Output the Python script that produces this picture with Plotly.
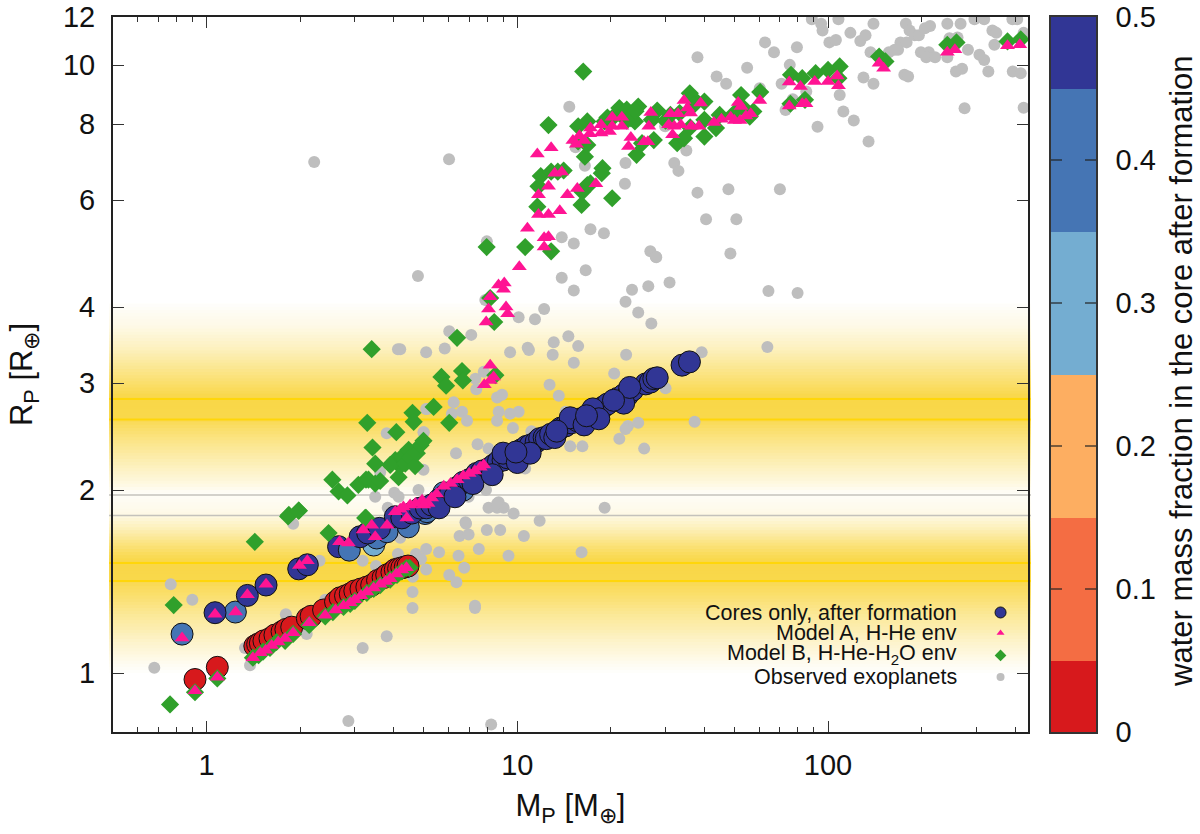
import numpy as np
import plotly.graph_objects as go

# ---------- data ----------
core_mass = [0.918,1.083,1.43,1.46,1.49,1.53,1.6,1.66,1.75,1.8,1.88,2.11,2.17,2.38,2.6,2.69,2.8,2.9,3.0,3.14,3.28,3.4,3.55,3.7,3.8,3.95,4.05,4.15,4.25,4.36,4.45,
             3.45,
             0.834,1.238,3.53,3.81,4.46,5.05,5.12,5.8,6.7,
             1.065,1.353,1.554,1.98,2.11,2.66,2.88,3.12,3.3,3.6,4.05,4.25,4.58,4.87,5.1,5.3,5.6,5.86,6.1,6.4,6.7,7.0,7.4,7.7,8.1,8.4,8.7,9.0,9.3,9.6,10.3,10.7,11,11.5,11.8,12.2,12.4,12.8,13.8,14.3,14.9,15.6,16,17.3,18,18.9,19.5,21,22,22.6,23.5,25.9,26.8,27.5,
             5.6,6.3,7.2,8.3,9,10,11,13.2,14.8,16.4,17.5,18.3,22,23,9.9,13.4,16.7,20.4,28.2,33.9,35.8]
core_radius = [0.976,1.022,1.108,1.115,1.12,1.13,1.14,1.155,1.17,1.18,1.19,1.23,1.24,1.27,1.31,1.33,1.34,1.35,1.365,1.375,1.385,1.395,1.42,1.435,1.45,1.465,1.48,1.485,1.49,1.495,1.5,
               1.624,
               1.159,1.26,1.668,1.708,1.74,1.83,1.843,1.98,2.0,
               1.257,1.342,1.396,1.484,1.507,1.614,1.593,1.676,1.70,1.73,1.808,1.80,1.833,1.868,1.87,1.89,1.93,1.963,1.98,2.02,2.06,2.08,2.13,2.15,2.17,2.2,2.23,2.24,2.26,2.29,2.33,2.36,2.37,2.4,2.43,2.44,2.43,2.47,2.53,2.55,2.58,2.6,2.62,2.68,2.71,2.74,2.77,2.83,2.87,2.86,2.92,2.99,3.01,3.05,
               1.87,1.95,2.05,2.12,2.3,2.22,2.3,2.44,2.63,2.56,2.72,2.62,2.78,2.95,2.31,2.5,2.65,2.81,3.06,3.21,3.25]
core_water = ([0.0]*31 + [0.3] + [0.4]*9 + [0.5]*6 + [0.4] + [0.5]*(len(core_mass)-48))

modelA_mass = [0.918,1.083,1.41,1.49,1.55,1.62,1.7,1.79,1.9,2.14,2.41,2.6,2.76,2.9,3.0,3.14,3.28,3.45,3.62,3.77,3.9,4.08,4.25,4.4,
               0.834,1.065,1.24,1.353,1.554,1.99,2.11,2.68,2.86,3.19,3.4,3.49,3.81,4.05,4.41,4.52,4.94,5.16,4.2,4.3,4.7,5.0,5.3,5.5,5.8,6.1,6.4,6.7,7,7.3,7.6,7.8,
               7.83,8.18,8.39,8.18,7.94,8.08,8.18,9.2,9.31,8.7,9.08,9.03,10.15,
               10.78,12.2,12.6,12.2,11.7,12.6,13.7,11.7,12.6,14.5,15.6,17.9,13.2,13.9,11.6,12.85,15.1,15.85,15.5,16.4,17.2,17.1,18.6,18.6,19.8,20.2,21.7,20.2,21.7,23.2,22.8,25.6,26.3,26.5,26.9,30.7,31.1,32.9,31.6,32,33.6,34.4,35.3,36.1,36.3,38.4,38.9,42.9,45.4,48.6,50,52.1,51.4,52.5,56.4,54.4,60.3,75,75,81.5,82.6,84.9,90.6,100,107,108,146,151,242,256,378,414]
modelA_radius = [0.935,0.984,1.06,1.08,1.09,1.11,1.125,1.14,1.165,1.21,1.245,1.27,1.29,1.305,1.32,1.34,1.36,1.38,1.40,1.415,1.43,1.455,1.477,1.49,
                 1.142,1.25,1.26,1.345,1.4,1.503,1.53,1.645,1.636,1.72,1.75,1.676,1.75,1.843,1.8,1.89,1.925,1.9,1.86,1.875,1.9,1.89,1.94,1.97,2.03,2.05,2.08,2.11,2.13,2.15,2.18,2.2,
                 2.98,3.21,3.07,3.03,3.78,3.97,4.16,4.0,3.9,4.35,4.38,4.28,4.66,
                 5.39,5.2,5.22,5.02,5.68,5.68,5.76,6.12,6.32,6.12,6.27,6.38,6.64,6.67,7.14,7.31,7.52,7.65,7.41,7.52,7.88,7.71,7.73,7.98,7.78,8.21,8.21,7.93,7.93,7.6,7.35,7.48,7.48,7.93,8.36,7.98,8.32,8.32,7.68,7.93,7.98,8.75,8.5,8.34,7.93,7.93,8.66,8.05,8.15,8.21,8.11,8.11,8.68,8.55,8.32,8.25,8.75,9.38,8.57,9.22,8.64,8.64,9.4,9.4,9.6,9.25,10.07,9.88,10.5,10.6,10.76,10.8]

modelB_mass = [0.763,0.784,0.918,1.083,1.41,1.47,1.52,1.6,1.68,1.79,1.9,2.14,2.41,2.55,2.76,2.9,3.0,3.28,3.45,3.62,3.9,4.1,4.25,4.4,4.5,
               1.43,1.83,1.98,2.47,3.24,1.84,1.98,2.54,2.66,2.84,3.08,3.26,3.32,3.49,3.62,3.26,4.05,4.2,4.15,3.9,4.26,4.36,4.47,4.52,4.69,4.75,4.88,4.99,3.42,3.49,4.08,3.29,6.04,4.6,4.64,5.38,5.7,5.9,6.64,6.68,3.4,6.4,8.18,8.43,8.5,
               7.97,10.6,12.85,11.6,16.1,20.2,11.7,11.9,12.85,13.5,14.1,16.2,16.8,17.2,18.8,18.7,16.5,16.8,15.7,12.6,16.3,15.7,16.8,19.1,20.2,21.3,22,23.2,24.5,23.9,28.2,27.1,24.2,27.5,25.2,32.7,34.4,35.9,36.8,40,31.1,33.3,40,40,43.6,44.8,50,52.5,52.9,57.5,56,60.5,76,82.6,91.2,100,109,108,75.7,84.3,146,153,242,259,378,417,19.5,22.5,24,22.5,30,36,37]
modelB_radius = [0.888,1.294,0.93,0.98,1.06,1.07,1.085,1.10,1.125,1.13,1.16,1.20,1.24,1.26,1.285,1.30,1.315,1.355,1.375,1.395,1.425,1.45,1.47,1.49,1.49,
                 1.644,1.81,1.85,1.70,1.80,1.82,1.85,2.08,1.99,1.96,2.04,2.08,2.08,2.05,2.07,1.8,2.24,2.19,2.1,2.2,2.27,2.21,2.33,2.26,2.19,2.3,2.37,2.41,2.35,2.21,2.49,2.58,2.58,2.68,2.59,2.74,3.07,2.97,3.14,3.03,3.41,3.56,4.14,3.78,3.09,
                 5.02,5.02,4.94,5.85,5.89,6.04,6.32,6.57,6.68,6.68,6.71,6.19,6.35,6.39,6.77,6.64,7.07,7.39,7.49,7.97,9.76,7.93,8.08,8.08,8.18,8.5,8.34,8.18,8.55,8.08,8.42,8.13,7.12,7.53,7.44,7.44,7.58,8.99,8.82,8.71,8.28,8.34,7.63,8.13,7.88,8.28,8.34,8.93,8.55,8.39,8.23,9.03,9.64,9.52,9.7,9.82,9.95,9.52,8.64,8.77,10.33,10.14,10.8,10.9,10.94,11.03,8.2,8.45,8.4,8.1,8.1,7.9,8.6]

obs_mass = [2.22,6.03,4.79,7.98,7.98,13.9,16.6,15.2,23.4,26.4,30.9,26.8,28,48.5,22.3,24.5,27,12.2,10.1,11.4,7.89,6.04,7.11,4.2,5.09,5.84,9.48,10.8,10.9,13.1,14.6,15.7,13,15.2,22.4,39.2,20.5,7.33,7.8,7.38,12.7,13.6,8.61,8.93,6.24,6.16,6.64,6.89,5.09,8.71,8.61,9.48,10.1,9.68,11.1,14.3,22.7,22.3,24.5,37.2,21.3,14.8,16.2,25.6,7.45,8.08,6.35,4.99,10.6,4.99,7.93,6.97,8.08,8.71,8.61,9.04,9.73,19.1,11.8,6.81,7.98,8.81,30,
            6.52,6.97,6.84,10.5,4.2,5.09,4.72,4.9,5.6,6.47,7.52,9.37,16.1,6.75,5.09,6.04,6.37,4.61,4.6,4.6,7.31,7.31,8.24,
            0.767,0.9,0.679,1.38,1.33,1.8,2.1,2.41,2.31,1.9,3.18,3.8,2.86,3.18,3.51,4.13,4.02,4.15,3.49,4.81,3.83,8.61,4.13,3.8,5.0,5.12,3.62,
            14.7,15.4,16.5,22.3,22.2,17.2,19,13.9,15.2,38,43.8,47,54.9,60.3,62.7,67,79.4,75.3,70.9,77,73,85.1,109,112,121,92.5,135,130,140,137,127,132,118,101,106,95,96,88.7,108,140,157,168,171,179,178,183,190,196,205,213,242,267,296,318,392,406,338,348,426,343,282,307,318,328,393,417,426,275,258,270,246,261,199,211,207,221,242,176,181,164,70,47.8,38,40.5,50.7,27.9,35,32,33,29.9,64.3,79.8,63.8]
obs_radius = [6.93,7.0,4.5,5.13,4.11,4.47,4.6,4.26,4.27,4.33,4.39,4.94,4.83,4.9,4.08,3.92,3.76,3.97,3.85,3.82,4.11,3.65,3.6,3.41,3.37,3.42,3.37,3.43,3.4,3.5,3.58,3.45,3.34,3.24,3.34,3.37,3.11,3.05,3.13,2.93,2.98,2.86,2.84,2.87,2.79,2.67,2.69,2.6,2.72,2.69,2.6,2.67,2.69,2.53,2.5,2.69,2.55,2.52,2.58,2.59,2.43,2.36,2.36,2.34,2.38,2.34,2.3,2.49,2.17,2.16,2.0,1.95,1.87,1.91,1.87,1.87,1.83,1.87,1.78,1.77,1.72,1.72,2.94,
              1.68,1.69,1.76,1.68,1.67,1.6,1.57,1.54,1.58,1.56,1.6,1.56,1.58,1.49,1.48,1.45,1.41,1.44,1.36,1.28,1.29,1.28,0.823,
              1.4,1.32,1.02,1.03,1.1,1.25,1.16,1.32,1.53,1.76,1.10,1.15,0.834,1.53,1.5,1.57,1.98,1.95,1.95,2.0,1.87,1.9,3.41,2.48,2.49,2.72,2.14,
              8.54,7.33,6.83,6.9,6.38,5.37,5.29,5.21,5.09,10.3,9.58,9.32,9.9,9.16,10.9,10.5,10.7,10.01,9.32,8.79,8.44,9.05,8.93,8.39,8.11,7.92,7.49,9.54,9.32,10.5,10.96,11.2,11.3,10.9,11,11.7,11.4,11.9,11.9,11.7,10.5,10.6,10.9,10.9,11.7,11.4,11.2,11.2,11.5,11.6,11.7,11.7,11.9,11.9,11.9,11.9,11.4,11.3,11.3,10.8,10.6,10.4,10.2,9.76,9.76,9.7,8.51,8.49,9.76,9.86,11.07,11.1,10.5,10.5,10.3,10.3,10.3,9.64,9.58,10.6,6.25,6.25,6.17,5.58,5.58,4.84,7.24,6.9,6.7,7.93,4.25,4.22,3.44]

legend_names = ["Cores only, after formation", "Model A, H-He env", "Model B, H-He-H<sub>2</sub>O env", "Observed exoplanets"]
legend_key_mass = [359, 359, 359, 359]
legend_key_radius = [1.258, 1.164, 1.069, 0.985]

band_radius = [1.0, 1.03, 1.07, 1.12, 1.17, 1.24, 1.32, 1.38, 1.417, 1.517, 1.56, 1.63, 1.72, 1.816, 1.963, 2.06, 2.2, 2.38, 2.52, 2.614, 2.824, 2.98, 3.16, 3.4, 3.7, 4.05]
band_level = [0.02, 0.07, 0.16, 0.26, 0.38, 0.52, 0.70, 0.82, 0.90, 0.92, 0.82, 0.62, 0.34, 0.12, 0.03, 0.18, 0.36, 0.58, 0.76, 0.90, 0.92, 0.74, 0.55, 0.32, 0.12, 0.01]
gold_lines = [1.417, 1.517, 2.614, 2.824]
grey_lines = [1.816, 1.963]

x_ticks = [1, 10, 100]
x_minor = [0.5,0.6,0.7,0.8,0.9,2,3,4,5,6,7,8,9,20,30,40,50,60,70,80,90,200,300,400]
y_ticks = [1, 2, 3, 4, 6, 8, 10, 12]
cbar_ticks = [0, 0.1, 0.2, 0.3, 0.4, 0.5]
cbar_edges = [0, 0.05, 0.15, 0.25, 0.35, 0.45, 0.5]
cbar_values = [[0.0], [0.1], [0.2], [0.3], [0.4], [0.5]]

FONT = "Liberation Sans"
INK = "#111"
W = 1087.0  # paper width in px once margins are applied
water_scale = [[0,"#D7191C"],[0.1,"#D7191C"],[0.1,"#F46D43"],[0.3,"#F46D43"],[0.3,"#FDAE61"],[0.5,"#FDAE61"],
               [0.5,"#74ADD1"],[0.7,"#74ADD1"],[0.7,"#4575B4"],[0.9,"#4575B4"],[0.9,"#313695"],[1,"#313695"]]

def mix(t):
    white, gold = np.array([255,255,255]), np.array([249,212,56])
    return "rgb(%d,%d,%d)" % tuple(white + (gold-white)*t)

shapes = []
edges = np.geomspace(band_radius[0], band_radius[-1], 120)
levels = np.interp(np.log(edges), np.log(band_radius), band_level)
bx0, bx1 = -4/W, 918/W
for i in range(len(edges)-1):
    top = edges[min(i+2, len(edges)-1)]
    shapes.append(dict(type="rect", xref="paper", yref="y", x0=bx0, x1=bx1, y0=edges[i], y1=top,
                       fillcolor=mix(levels[i]), line_width=0, layer="below"))
for r in gold_lines:
    shapes.append(dict(type="line", xref="paper", yref="y", x0=bx0, x1=bx1, y0=r, y1=r, line=dict(color="#FFD60A", width=2), layer="below"))
for r in grey_lines:
    shapes.append(dict(type="line", xref="paper", yref="y", x0=bx0, x1=bx1, y0=r, y1=r, line=dict(color="#C4C2BC", width=1.6), layer="below"))
# colour-scale ticks on both edges, above the heatmap
for v in cbar_ticks[1:-1]:
    for a, b in ((0, 11/45), (34/45, 1)):
        shapes.append(dict(type="line", xref="x2", yref="y2", x0=a, x1=b, y0=v, y1=v,
                           line=dict(color="#222", width=1.2), layer="above"))

fig = go.Figure()
fig.add_trace(go.Scatter(x=obs_mass, y=obs_radius, mode="markers", name="Observed exoplanets",
                         marker=dict(symbol="circle", size=12, color="#BEBEBE")))
fig.add_trace(go.Scatter(x=core_mass, y=core_radius, mode="markers", name="Cores only, after formation",
                         marker=dict(symbol="circle", size=22, color=core_water, cmin=0, cmax=0.5, colorscale=water_scale,
                                     showscale=False, line=dict(color=INK, width=1))))
fig.add_trace(go.Scatter(x=modelB_mass, y=modelB_radius, mode="markers", name="Model B, H-He-H2O env",
                         marker=dict(symbol="diamond", size=14, color="#30A02B")))
fig.add_trace(go.Scatter(x=modelA_mass, y=modelA_radius, mode="markers", name="Model A, H-He env",
                         marker=dict(symbol="triangle-up", size=13, color="#FF1493")))
# legend keys
fig.add_trace(go.Scatter(x=legend_key_mass, y=legend_key_radius, mode="markers", hoverinfo="skip",
                         marker=dict(symbol=["circle","triangle-up","diamond","circle"], size=[11,7,9,8], opacity=1,
                                     color=["#313695","#FF1493","#30A02B","#BEBEBE"],
                                     line=dict(color=[INK,"rgba(0,0,0,0)","rgba(0,0,0,0)","rgba(0,0,0,0)"], width=[1,0,0,0]))))
# colour scale drawn on its own axes so that ticks show on both edges
fig.add_trace(go.Heatmap(x=[0, 1], y=cbar_edges, z=cbar_values, zmin=0, zmax=0.5, colorscale=water_scale,
                         showscale=False, hoverinfo="skip", xaxis="x2", yaxis="y2"))

legend_py = [612.5, 633, 654, 677]
annotations = [dict(xref="paper", yref="paper", x=(959-113)/W, y=(732-p)/715, xanchor="right", yanchor="middle",
                    text=t, showarrow=False, font=dict(family=FONT, size=21.5, color=INK))
               for t, p in zip(legend_names, legend_py)]
annotations.append(dict(xref="paper", yref="paper", x=(1181-113)/W, y=(732-371)/715, xanchor="center", yanchor="middle",
                        textangle=-90, text="water mass fraction in the core after formation", showarrow=False,
                        font=dict(family=FONT, size=31, color=INK)))

fig.update_layout(
    width=1200, height=834, autosize=False, showlegend=False,
    margin=dict(l=113, r=0, t=17, b=102, autoexpand=False),
    paper_bgcolor="white", plot_bgcolor="white",
    font=dict(family=FONT, color=INK),
    shapes=shapes, annotations=annotations,
    xaxis=dict(domain=[0, 915/W], type="log", range=[np.log10(0.5), np.log10(440)], showgrid=False, zeroline=False,
               showline=True, linecolor="#222", linewidth=2, mirror="ticks",
               tickmode="array", tickvals=x_ticks, ticktext=["1","10","100"], ticks="inside", ticklen=11, tickwidth=1, tickcolor="#333",
               ticklabelstandoff=6,
               minor=dict(tickmode="array", tickvals=x_minor, ticks="inside", ticklen=5, tickwidth=1, tickcolor="#333", showgrid=False),
               tickfont=dict(family=FONT, size=29, color=INK),
               title=dict(text="M<sub>P</sub> [M<sub>⊕</sub>]", font=dict(family=FONT, size=31, color=INK), standoff=15)),
    yaxis=dict(type="log", range=[np.log10(0.8), np.log10(12)], showgrid=False, zeroline=False,
               showline=True, linecolor="#222", linewidth=2, mirror="ticks",
               tickmode="array", tickvals=y_ticks, ticktext=[str(v) for v in y_ticks], ticks="inside", ticklen=11, tickwidth=1, tickcolor="#333",
               ticklabelstandoff=10,
               tickfont=dict(family=FONT, size=29, color=INK),
               title=dict(text="R<sub>P</sub> [R<sub>⊕</sub>]", font=dict(family=FONT, size=31, color=INK), standoff=21)),
    xaxis2=dict(domain=[938/W, 983/W], range=[0, 1], anchor="y2", showticklabels=False, ticks="", showgrid=False, zeroline=False,
                showline=True, linecolor="#333", linewidth=1.5, mirror=True),
    yaxis2=dict(domain=[0, 1], range=[0, 0.5], anchor="x2", side="right", showgrid=False, zeroline=False,
                showline=True, linecolor="#333", linewidth=1.5, mirror=True,
                tickmode="array", tickvals=cbar_ticks, ticktext=["0","0.1","0.2","0.3","0.4","0.5"],
                ticks="", ticklabelstandoff=12,
                tickfont=dict(family=FONT, size=29, color=INK)),
)

fig.write_html("out.html", config={"displayModeBar": False}, post_script="document.body.style.margin='0';")
